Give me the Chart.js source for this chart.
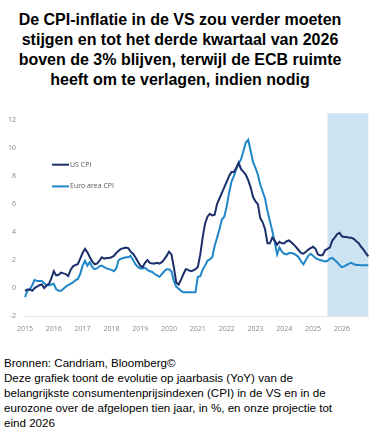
<!DOCTYPE html>
<html>
<head>
<meta charset="utf-8">
<script src="https://cdn.jsdelivr.net/npm/chart.js@4.4.1/dist/chart.umd.min.js"></script>
<style>
  html, body { margin: 0; padding: 0; background: #fff; }
  body { width: 378px; height: 429px; position: relative; overflow: hidden; font-family: "Liberation Sans", Arial, sans-serif; }
  #title { position: absolute; left: 0; top: 10px; width: 360px; text-align: center; font-weight: bold; font-size: 16px; line-height: 20px; color: #000; }
  #chartBox { position: absolute; left: 0; top: 100px; width: 378px; height: 240px; }
  #footer { position: absolute; left: 4px; top: 355px; width: 374px; font-size: 11.6px; line-height: 15px; color: #000; white-space: nowrap; }
</style>
</head>
<body>
<div id="title">De CPI-inflatie in de VS zou verder moeten<br>stijgen en tot het derde kwartaal van 2026<br>boven de 3% blijven, terwijl de ECB ruimte<br>heeft om te verlagen, indien nodig</div>
<div id="chartBox"><canvas id="c"></canvas></div>
<div id="footer">Bronnen: Candriam, Bloomberg©<br>Deze grafiek toont de evolutie op jaarbasis (YoY) van de<br>belangrijkste consumentenprijsindexen (CPI) in de VS en in de<br>eurozone over de afgelopen tien jaar, in %, en onze projectie tot<br>eind 2026</div>
<script>
// Years on the x axis (monthly data, Jan 2015 - Dec 2026)
const years = [2015, 2016, 2017, 2018, 2019, 2020, 2021, 2022, 2023, 2024, 2025, 2026];
const yTicks = [-2, 0, 2, 4, 6, 8, 10, 12];
const forecastStart = '2025-07';
const seriesNames = ['US CPI', 'Euro area CPI'];

// US CPI YoY %, one value per month
const usCpi = [
  -0.2, -0.1, -0.1, -0.2, 0.0, 0.1, 0.2, 0.25, 0.0, 0.2, 0.3, 0.7,
  1.2, 0.9, 0.95, 1.1, 1.05, 1.0, 0.85, 1.3, 1.55, 1.65, 1.7, 2.1,
  2.5, 2.8, 2.55, 2.2, 1.9, 1.7, 1.75, 1.95, 2.2, 2.1, 2.15, 2.15,
  2.2, 2.3, 2.5, 2.66, 2.8, 2.85, 2.9, 2.85, 2.6, 2.45, 2.2, 1.9,
  1.6, 1.5, 1.8, 2.0, 1.8, 1.75, 1.75, 1.8, 1.75, 1.85, 2.05, 2.3,
  2.6, 2.4, 1.5, 0.4, 0.25, 0.6, 1.0, 1.35, 1.3, 1.2, 1.25, 1.35,
  1.5, 2.4, 3.6, 4.6, 5.1, 5.3, 5.2, 5.25, 6.0, 6.4, 6.8, 7.2,
  7.6, 8.0, 8.3, 8.3, 8.6, 8.95, 8.5, 8.3, 8.1, 7.7, 7.2, 6.5,
  6.2, 6.0, 5.0, 4.7, 4.2, 3.2, 3.2, 3.6, 3.4, 3.1, 3.3, 3.2,
  3.2, 3.35, 3.4, 3.25, 3.1, 2.9, 2.7, 2.5, 2.45, 2.6, 2.75, 2.85,
  2.95, 2.8, 2.4, 2.35, 2.35, 2.7, 2.8, 2.9, 3.4, 3.6, 3.85, 3.95,
  3.7, 3.65, 3.65, 3.6, 3.6, 3.5, 3.35, 3.2, 2.95, 2.75, 2.5, 2.26
];

// Euro area CPI YoY %, one value per month
const euroCpi = [
  -0.65, -0.2, -0.1, 0.2, 0.58, 0.5, 0.5, 0.5, 0.35, 0.2, 0.2, 0.25,
  0.3, -0.1, -0.2, -0.2, -0.05, 0.1, 0.2, 0.3, 0.4, 0.55, 0.65, 1.0,
  1.6, 1.95, 1.6, 1.85, 1.5, 1.35, 1.4, 1.55, 1.6, 1.5, 1.4, 1.35,
  1.3, 1.2, 1.4, 2.0, 2.1, 2.15, 2.2, 2.2, 2.3, 2.0, 1.7, 1.5,
  1.4, 1.4, 1.45, 1.3, 1.2, 1.15, 1.0, 0.9, 0.8, 1.0, 1.2, 1.35,
  1.35, 1.2, 0.5, 0.1, -0.05, -0.2, -0.3, -0.3, -0.3, -0.3, -0.3, -0.3,
  0.8, 0.85, 1.3, 1.6, 1.95, 2.05, 2.2, 3.0, 3.6, 4.2, 4.9, 5.1,
  5.8, 6.8, 7.6, 8.0, 8.5, 8.9, 9.2, 9.8, 10.4, 10.6, 9.8, 9.0,
  8.6, 8.1, 7.4, 6.9, 6.4, 5.5, 4.8, 4.1, 3.3, 2.4, 2.9, 2.6,
  2.45, 2.4, 2.5, 2.5, 2.45, 2.35, 2.2, 1.9, 1.7, 2.0, 2.3, 2.45,
  2.3, 2.15, 2.05, 2.0, 1.95, 1.9, 1.95, 2.1, 2.15, 2.0, 1.85, 1.65,
  1.5, 1.55, 1.65, 1.75, 1.8, 1.7, 1.65, 1.65, 1.63, 1.63, 1.63, 1.63
];

const labels = [];
years.forEach(y => { for (let m = 1; m <= 12; m++) labels.push(y + '-' + String(m).padStart(2, '0')); });

const NAVY = '#1b2f6b';
const BLUE = '#1f86c8';
const SHADE = '#cde3f1';

const shadePlugin = {
  id: 'shade',
  beforeDatasetsDraw(chart) {
    const { ctx, chartArea, scales } = chart;
    const x0 = scales.x.getPixelForValue(labels.indexOf(forecastStart));
    ctx.save();
    ctx.fillStyle = SHADE;
    ctx.fillRect(x0, chartArea.top, chartArea.right - x0, chartArea.bottom - chartArea.top);
    ctx.restore();
  }
};

const legendPlugin = {
  id: 'inlineLegend',
  afterDatasetsDraw(chart) {
    const { ctx, chartArea } = chart;
    ctx.save();
    ctx.font = '7px "Open Sans", sans-serif';
    ctx.textBaseline = 'middle';
    chart.data.datasets.forEach((ds, i) => {
      const y = chartArea.top + 51.5 + i * 21.7;
      const x = chartArea.left + 27;
      ctx.strokeStyle = ds.borderColor;
      ctx.lineWidth = 2;
      ctx.beginPath();
      ctx.moveTo(x, y);
      ctx.lineTo(x + 17, y);
      ctx.stroke();
      ctx.fillStyle = '#555';
      ctx.fillText(ds.label, x + 18, y);
    });
    ctx.restore();
  }
};

new Chart(document.getElementById('c'), {
  type: 'line',
  data: {
    labels: labels,
    datasets: [
      { label: seriesNames[0], data: usCpi, borderColor: NAVY, borderWidth: 2, pointRadius: 0, tension: 0 },
      { label: seriesNames[1], data: euroCpi, borderColor: BLUE, borderWidth: 2, pointRadius: 0, tension: 0 }
    ]
  },
  options: {
    responsive: true,
    maintainAspectRatio: false,
    animation: false,
    layout: { padding: { top: 8.5, right: 9.7, bottom: 0, left: 0 } },
    plugins: { legend: { display: false }, tooltip: { enabled: false } },
    scales: {
      x: {
        type: 'category',
        offset: false,
        grid: { display: false, drawTicks: false },
        border: { display: true, color: '#e4e4e4', width: 1 },
        ticks: {
          autoSkip: false,
          maxRotation: 0,
          padding: 9,
          color: '#8a8a8a',
          font: { family: '"Open Sans", sans-serif', size: 7 },
          callback: function (v) {
            const l = labels[v];
            return l.endsWith('-01') ? l.slice(0, 4) : null;
          }
        },
        afterFit: s => { s.height = 24; }
      },
      y: {
        min: yTicks[0],
        max: 12.5,
        grid: { display: false, drawTicks: false },
        border: { display: false },
        afterBuildTicks: s => { s.ticks = yTicks.map(v => ({ value: v })); },
        ticks: {
          padding: 9,
          color: '#8a8a8a',
          font: { family: '"Open Sans", sans-serif', size: 7 }
        },
        afterFit: s => { s.width = 25; }
      }
    }
  },
  plugins: [shadePlugin, legendPlugin]
});
</script>
</body>
</html>
